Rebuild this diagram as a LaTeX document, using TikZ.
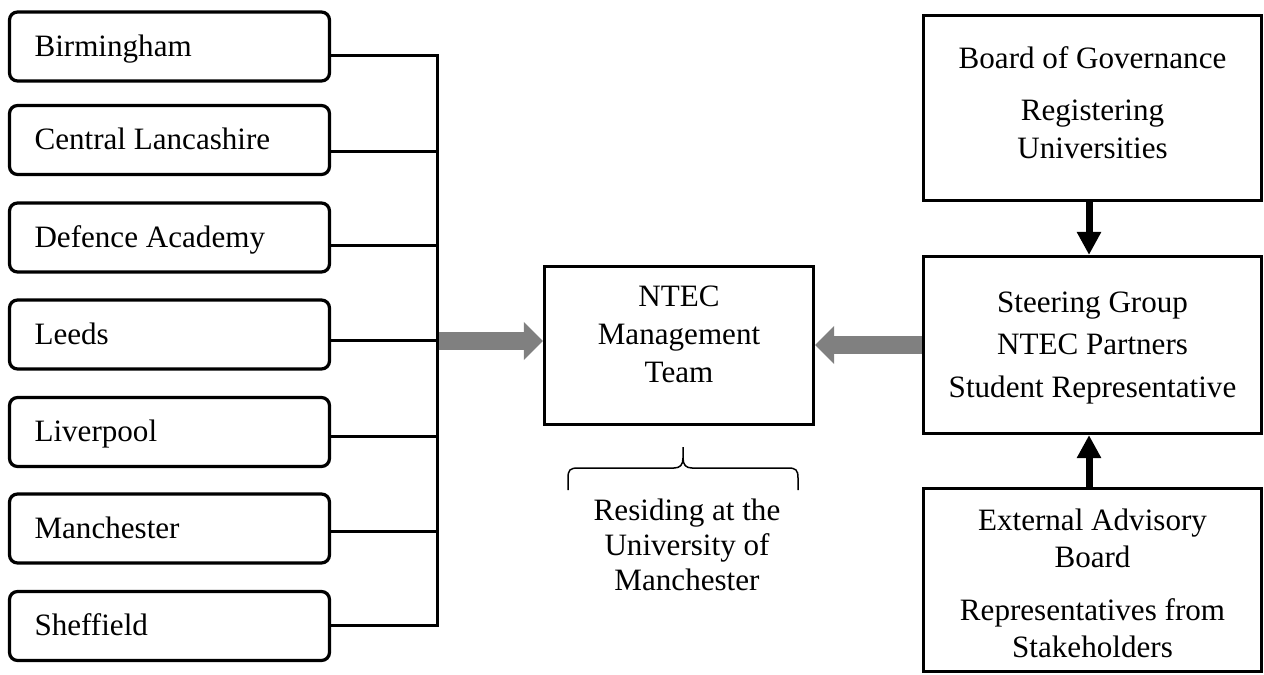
\documentclass[tikz,border=0pt]{standalone}
\usepackage{fontspec}
\setmainfont{Liberation Serif}
\usetikzlibrary{arrows.meta}
\definecolor{arrgray}{RGB}{128,128,128}
\begin{document}
\begin{tikzpicture}[x=0.02cm,y=-0.02cm,
  every node/.style={font=\fontsize{17.7pt}{21.5pt}\selectfont},
  unibox/.style={draw, line width=0.065cm, rounded corners=0.16cm,
    minimum width=6.4cm, minimum height=1.38cm, text width=5.4cm,
    align=flush left, inner xsep=0.5cm, inner ysep=0pt,
    text height=1.3em, text depth=0.2em},
  plainbox/.style={draw, line width=0.065cm, inner sep=0pt},
  txt/.style={align=center, inner sep=0pt},
  conn/.style={line width=0.06cm},
  grayarrow/.style={line width=0.36cm, arrgray, -{Triangle[width=0.74cm,length=0.38cm]}},
  blackarrow/.style={line width=0.14cm, -{Triangle[width=0.46cm,length=0.46cm]}},
  bracestyle/.style={line width=0.03cm}
]
\useasboundingbox (0,0) rectangle (1264,675);

% university boxes
\node[unibox] (b1) at (169.5,46.5) {Birmingham};
\node[unibox] (b2) at (169.5,140) {Central Lancashire};
\node[unibox] (b3) at (169.5,237.5) {Defence Academy};
\node[unibox] (b4) at (169.5,334.5) {Leeds};
\node[unibox] (b5) at (169.5,432) {Liverpool};
\node[unibox] (b6) at (169.5,528.5) {Manchester};
\node[unibox] (b7) at (169.5,626) {Sheffield};

% bus junctions
\coordinate (j1) at (437,56);
\coordinate (j2) at (437,152);
\coordinate (j3) at (437,246);
\coordinate (j4) at (437,341);
\coordinate (j5) at (437,436);
\coordinate (j6) at (437,531);
\coordinate (j7) at (437,625);
\draw[conn] (b1.east |- j1) -- (j1) -- (j7) -- (b7.east |- j7);
\draw[conn] (b2.east |- j2) -- (j2);
\draw[conn] (b3.east |- j3) -- (j3);
\draw[conn] (b4.east |- j4) -- (j4);
\draw[conn] (b5.east |- j5) -- (j5);
\draw[conn] (b6.east |- j6) -- (j6);

% central box
\node[plainbox, minimum width=5.38cm, minimum height=3.16cm] (ntec) at (679,345.5) {};
\node[txt] (ntect) at (679,334.5) {NTEC\\Management\\Team};

% right boxes
\node[plainbox, minimum width=6.76cm, minimum height=3.7cm] (gov) at (1092.5,108) {};
\node[txt] (govt) at (1092.5,102.5) {Board of Governance\\[8.5pt]Registering\\Universities};
\node[plainbox, minimum width=6.76cm, minimum height=3.54cm] (steer) at (1092.5,345) {};
\node[txt, font=\fontsize{17.7pt}{24.1pt}\selectfont] (steert) at (1092.5,348) {Steering Group\\NTEC Partners\\Student Representative};
\node[plainbox, minimum width=6.76cm, minimum height=3.66cm] (ext) at (1092.5,580) {};
\node[txt, font=\fontsize{17.7pt}{21pt}\selectfont] (extt) at (1092.5,583.5) {External Advisory\\Board\\[9pt]Representatives from\\Stakeholders};

% arrows
\coordinate (ga) at (439,341);
\draw[grayarrow] (ga) -- (ntec.west |- ga);
\draw[grayarrow] (steer.west) -- (ntec.east |- steer.west);
\coordinate (ax) at (1089,0);
\draw[blackarrow] (gov.south -| ax) -- (steer.north -| ax);
\draw[blackarrow] (ext.north -| ax) -- (steer.south -| ax);

% brace and note
\draw[bracestyle] (568,490) -- (568,478) .. controls (568,470) and (570,468) .. (578,468)
  -- (674,468) .. controls (680,468) and (683,465) .. (683,458) -- (683,447);
\draw[bracestyle] (683,458) .. controls (683,465) and (686,468) .. (692,468)
  -- (788,468) .. controls (796,468) and (798,470) .. (798,478) -- (798,490);
\node[txt, font=\fontsize{17.7pt}{19.8pt}\selectfont] (res) at (687,545) {Residing at the\\University of\\Manchester};
\end{tikzpicture}
\end{document}
